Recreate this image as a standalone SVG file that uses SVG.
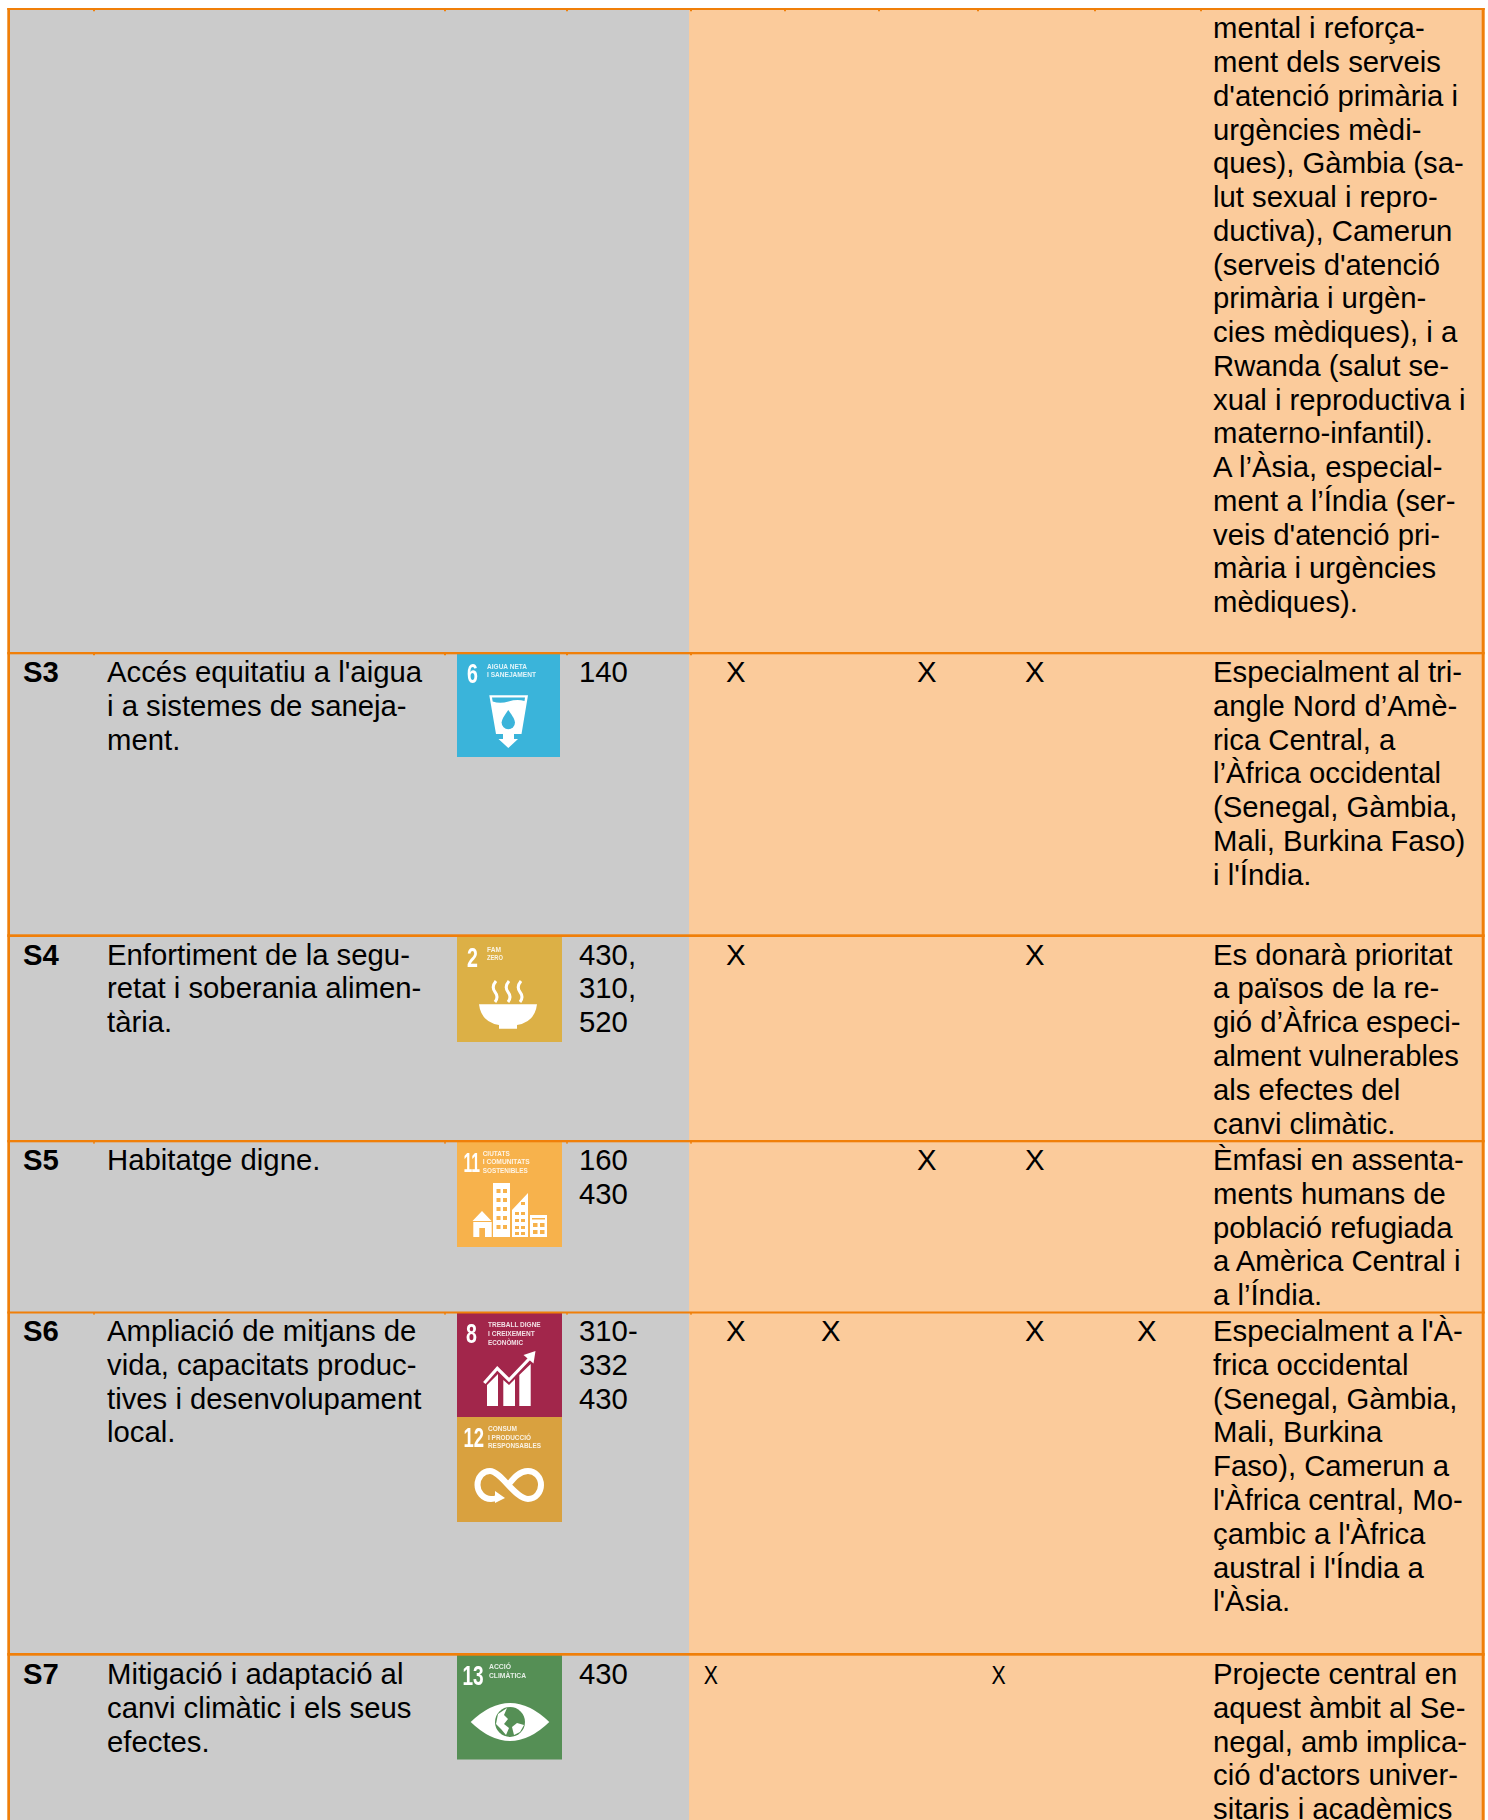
<svg xmlns="http://www.w3.org/2000/svg" width="1488" height="1820" viewBox="0 0 1488 1820">
<style>
text{font-family:"Liberation Sans",Arial,sans-serif;font-size:29.3px;fill:#000}
.b{font-weight:700}
.ln{fill:#F07F09;stroke:none}
.w{fill:#fff}
text.num{font-family:"Liberation Sans",Arial,sans-serif;font-weight:700;font-size:28px;fill:#fff}
text.t{font-family:"Liberation Sans",Arial,sans-serif;font-weight:700;font-size:7.5px;fill:#fff;fill-opacity:.85}
text.sx{font-size:25px}
.ic{filter:url(#soft)}
</style>
<defs><filter id="soft" x="-5%" y="-5%" width="110%" height="110%"><feGaussianBlur stdDeviation="0.5"/></filter></defs>
<rect width="1488" height="1820" fill="#fff"/>
<rect x="10" y="10" width="679" height="1810" fill="#CBCBCB"/>
<rect x="689" y="10" width="793" height="1810" fill="#FBCB9B"/>

<g id="row-s2">
<text x="1213" y="38.3">mental i reforça-<tspan x="1213" dy="33.75">ment dels serveis</tspan><tspan x="1213" dy="33.75">d'atenció primària i</tspan><tspan x="1213" dy="33.75">urgències mèdi-</tspan><tspan x="1213" dy="33.75">ques), Gàmbia (sa-</tspan><tspan x="1213" dy="33.75">lut sexual i repro-</tspan><tspan x="1213" dy="33.75">ductiva), Camerun</tspan><tspan x="1213" dy="33.75">(serveis d'atenció</tspan><tspan x="1213" dy="33.75">primària i urgèn-</tspan><tspan x="1213" dy="33.75">cies mèdiques), i a</tspan><tspan x="1213" dy="33.75">Rwanda (salut se-</tspan><tspan x="1213" dy="33.75">xual i reproductiva i</tspan><tspan x="1213" dy="33.75">materno-infantil).</tspan><tspan x="1213" dy="33.75">A l’Àsia, especial-</tspan><tspan x="1213" dy="33.75">ment a l’Índia (ser-</tspan><tspan x="1213" dy="33.75">veis d'atenció pri-</tspan><tspan x="1213" dy="33.75">mària i urgències</tspan><tspan x="1213" dy="33.75">mèdiques).</tspan></text>
</g>

<g id="row-s3">
<text class="b" x="23" y="682">S3</text>
<text x="107" y="682">Accés equitatiu a l'aigua<tspan x="107" dy="33.8">i a sistemes de saneja-</tspan><tspan x="107" dy="33.8">ment.</tspan></text>
<g transform="translate(457 653)">
<rect width="103" height="104" fill="#3AB4DA"/>
<g class="ic">
<text class="num" transform="translate(10 30) scale(.7 1)">6</text>
<text class="t" x="30" y="16" textLength="40" lengthAdjust="spacingAndGlyphs">AIGUA NETA</text>
<text class="t" x="30" y="24" textLength="49" lengthAdjust="spacingAndGlyphs">I SANEJAMENT</text>
<path class="w" d="M32.3 42.3H71L64.5 81H57V86H61L51.3 95L41.5 86H46V81H39Z"/>
<path fill="#3AB4DA" d="M35 44.5H68L67.5 48Q60 46 51.5 48.5T35.7 48.5Z"/>
<path fill="#3AB4DA" d="M51.3 57Q58 66 58 69.5A6.7 6.7 0 0 1 44.6 69.5Q44.6 66 51.3 57Z"/>
</g>
</g>
<text x="579" y="682">140</text>
<text x="726" y="682">X</text>
<text x="917" y="682">X</text>
<text x="1025" y="682">X</text>
<text x="1213" y="682">Especialment al tri-<tspan x="1213" dy="33.8">angle Nord d’Amè-</tspan><tspan x="1213" dy="33.8">rica Central, a</tspan><tspan x="1213" dy="33.8">l’Àfrica occidental</tspan><tspan x="1213" dy="33.8">(Senegal, Gàmbia,</tspan><tspan x="1213" dy="33.8">Mali, Burkina Faso)</tspan><tspan x="1213" dy="33.8">i l'Índia.</tspan></text>
</g>

<g id="row-s4">
<text class="b" x="23" y="964.6">S4</text>
<text x="107" y="964.6">Enfortiment de la segu-<tspan x="107" dy="33.8">retat i soberania alimen-</tspan><tspan x="107" dy="33.8">tària.</tspan></text>
<g transform="translate(457 937)">
<rect width="105" height="105" fill="#DCB046"/>
<g class="ic">
<text class="num" transform="translate(10 30) scale(.7 1)">2</text>
<text class="t" x="30" y="14.7" textLength="14" lengthAdjust="spacingAndGlyphs">FAM</text>
<text class="t" x="30" y="23" textLength="16" lengthAdjust="spacingAndGlyphs">ZERO</text>
<path class="w" d="M22 67.3H80Q78 85 60 88V91.7H42V88Q24 85 22 67.3Z"/>
<path fill="none" stroke="#fff" stroke-width="3" d="M39 44Q34 50 38 55T38 65M52 44Q47 50 51 55T51 65M64 44Q59 50 63 55T63 65"/>
</g>
</g>
<text x="579" y="964.6">430,<tspan x="579" dy="33.8">310,</tspan><tspan x="579" dy="33.8">520</tspan></text>
<text x="726" y="964.6">X</text>
<text x="1025" y="964.6">X</text>
<text x="1213" y="964.6">Es donarà prioritat<tspan x="1213" dy="33.8">a països de la re-</tspan><tspan x="1213" dy="33.8">gió d’Àfrica especi-</tspan><tspan x="1213" dy="33.8">alment vulnerables</tspan><tspan x="1213" dy="33.8">als efectes del</tspan><tspan x="1213" dy="33.8">canvi climàtic.</tspan></text>
</g>

<g id="row-s5">
<text class="b" x="23" y="1170">S5</text>
<text x="107" y="1170">Habitatge digne.</text>
<g transform="translate(457 1142)">
<rect width="105" height="105" fill="#F7B24C"/>
<g class="ic">
<text class="num" transform="translate(6.5 30) scale(.56 1)">11</text>
<text class="t" x="25.7" y="14" textLength="27" lengthAdjust="spacingAndGlyphs">CIUTATS</text>
<text class="t" x="25.7" y="22.3" textLength="47" lengthAdjust="spacingAndGlyphs">I COMUNITATS</text>
<text class="t" x="25.7" y="31.3" textLength="45" lengthAdjust="spacingAndGlyphs">SOSTENIBLES</text>
<path class="w" d="M25 69L34.5 79H15.5ZM16.3 80H34.7V95H28V86H22.3V95H16.3ZM36 41H53V95H36ZM55 68L71 51V95H55ZM73 73H90V95H73Z"/>
<path fill="#F7B24C" d="M39.5 47h4v4h-4zM46 47h4v4h-4zM39.5 56h4v4h-4zM46 56h4v4h-4zM39.5 65h4v4h-4zM46 65h4v4h-4zM39.5 74h4v4h-4zM46 74h4v4h-4zM39.5 83h4v4h-4zM46 83h4v4h-4zM64 60h4v3h-4zM58 70h4v3h-4zM64 70h4v3h-4zM58 77h4v3h-4zM64 77h4v3h-4zM58 84h4v3h-4zM64 84h4v3h-4zM58 90h4v3h-4zM64 90h4v3h-4zM75 76h13v1.5h-13zM76 81h4.5v4h-4.5zM83 81h4.5v4h-4.5zM76 88h4.5v4h-4.5zM83 88h4.5v4h-4.5z"/>
</g>
</g>
<text x="579" y="1170">160<tspan x="579" dy="33.8">430</tspan></text>
<text x="917" y="1170">X</text>
<text x="1025" y="1170">X</text>
<text x="1213" y="1170">Èmfasi en assenta-<tspan x="1213" dy="33.8">ments humans de</tspan><tspan x="1213" dy="33.8">població refugiada</tspan><tspan x="1213" dy="33.8">a Amèrica Central i</tspan><tspan x="1213" dy="33.8">a l’Índia.</tspan></text>
</g>

<g id="row-s6">
<text class="b" x="23" y="1341">S6</text>
<text x="107" y="1341">Ampliació de mitjans de<tspan x="107" dy="33.8">vida, capacitats produc-</tspan><tspan x="107" dy="33.8">tives i desenvolupament</tspan><tspan x="107" dy="33.8">local.</tspan></text>
<g transform="translate(457 1313)">
<rect width="105" height="104" fill="#A2264B"/>
<g class="ic">
<text class="num" transform="translate(9 30) scale(.7 1)">8</text>
<text class="t" x="31" y="14.3" textLength="52.7" lengthAdjust="spacingAndGlyphs">TREBALL DIGNE</text>
<text class="t" x="31" y="23" textLength="46.7" lengthAdjust="spacingAndGlyphs">I CREIXEMENT</text>
<text class="t" x="31" y="32" textLength="35" lengthAdjust="spacingAndGlyphs">ECONÒMIC</text>
<path class="w" d="M30 72L41 61V93H30ZM46.3 67L52 72L58 66V93H46.3ZM62.3 62L73.7 51V93H62.3Z"/>
<path fill="none" stroke="#fff" stroke-width="3.2" d="M27.3 70L40.3 55.3L52 67L73 45"/>
<path class="w" d="M78.5 38L76.5 50.5L66.5 42Z"/>
</g>
</g>
<g transform="translate(457 1417)">
<rect width="105" height="105" fill="#D9A13F"/>
<g class="ic">
<text class="num" transform="translate(6.5 30) scale(.66 1)">12</text>
<text class="t" x="31" y="14" textLength="29" lengthAdjust="spacingAndGlyphs">CONSUM</text>
<text class="t" x="31" y="22.7" textLength="43" lengthAdjust="spacingAndGlyphs">I PRODUCCIÓ</text>
<text class="t" x="31" y="31" textLength="53" lengthAdjust="spacingAndGlyphs">RESPONSABLES</text>
<path fill="none" stroke="#fff" stroke-width="6" d="M40 81C37 82 36 82 34 82C26 82 20.5 75 20.5 68C20.5 60 26 54 33 54C44 54 58 82 71 82C79 82 84 75 84 68C84 60 78 54 71 54C62 54 56 62 52 67"/>
<path class="w" d="M38 74L48 81L38 86Z"/>
</g>
</g>
<text x="579" y="1341">310-<tspan x="579" dy="33.8">332</tspan><tspan x="579" dy="33.8">430</tspan></text>
<text x="726" y="1341">X</text>
<text x="821" y="1341">X</text>
<text x="1025" y="1341">X</text>
<text x="1137" y="1341">X</text>
<text x="1213" y="1341">Especialment a l'À-<tspan x="1213" dy="33.8">frica occidental</tspan><tspan x="1213" dy="33.8">(Senegal, Gàmbia,</tspan><tspan x="1213" dy="33.8">Mali, Burkina</tspan><tspan x="1213" dy="33.8">Faso), Camerun a</tspan><tspan x="1213" dy="33.8">l'Àfrica central, Mo-</tspan><tspan x="1213" dy="33.8">çambic a l'Àfrica</tspan><tspan x="1213" dy="33.8">austral i l'Índia a</tspan><tspan x="1213" dy="33.8">l'Àsia.</tspan></text>
</g>

<g id="row-s7">
<text class="b" x="23" y="1684">S7</text>
<text x="107" y="1684">Mitigació i adaptació al<tspan x="107" dy="33.8">canvi climàtic i els seus</tspan><tspan x="107" dy="33.8">efectes.</tspan></text>
<g transform="translate(457 1655)">
<rect width="105" height="104.5" fill="#558F55"/>
<g class="ic">
<text class="num" transform="translate(5.5 30) scale(.68 1)">13</text>
<text class="t" x="32" y="14.3" textLength="22" lengthAdjust="spacingAndGlyphs">ACCIÓ</text>
<text class="t" x="32" y="22.7" textLength="37" lengthAdjust="spacingAndGlyphs">CLIMÀTICA</text>
<path class="w" d="M13.7 67Q53 29 92.3 67Q53 105 13.7 67Z"/>
<circle cx="53" cy="67" r="15" fill="#558F55"/>
<path class="w" d="M41 59L50 53L47 60L51 64L47 69L52 73L49 80L44 74L39 69ZM55 72L60 68L67 70L63 77L57 80Z"/>
</g>
</g>
<text x="579" y="1684">430</text>
<text class="sx" transform="translate(703.7 1684) scale(.85 1)">X</text>
<text class="sx" transform="translate(991.5 1684) scale(.85 1)">X</text>
<text x="1213" y="1684">Projecte central en<tspan x="1213" dy="33.8">aquest àmbit al Se-</tspan><tspan x="1213" dy="33.8">negal, amb implica-</tspan><tspan x="1213" dy="33.8">ció d'actors univer-</tspan><tspan x="1213" dy="33.8">sitaris i acadèmics</tspan></text>
</g>

<g id="connectors">
<rect class="ln" x="7.3" y="8" width="2.7" height="1812"/>
<rect class="ln" x="1481.7" y="8" width="3" height="1812"/>
<rect class="ln" x="7.3" y="8" width="1477.4" height="2"/>
<rect class="ln" x="7.3" y="652" width="1477.4" height="2.3"/>
<rect class="ln" x="7.3" y="934.3" width="1477.4" height="2.7"/>
<rect class="ln" x="7.3" y="1140" width="1477.4" height="2.3"/>
<rect class="ln" x="7.3" y="1311.5" width="1477.4" height="2"/>
<rect class="ln" x="7.3" y="1653" width="1477.4" height="2.7"/>
<path class="ln" d="M93 10h2v1.3h-2zM444 10h2v1.3h-2zM566 10h2v1.3h-2zM690 10h2v1.3h-2zM784 10h2v1.3h-2zM878 10h2v1.3h-2zM977 10h2v1.3h-2zM1094 10h2v1.3h-2zM1200 10h2v1.3h-2zM93 654h2v1.3h-2zM444 654h2v1.3h-2zM566 654h2v1.3h-2zM690 654h2v1.3h-2zM93 1142.3h2v1.3h-2zM444 1142.3h2v1.3h-2zM566 1142.3h2v1.3h-2zM690 1142.3h2v1.3h-2zM93 1313.3h2v1.3h-2zM444 1313.3h2v1.3h-2zM566 1313.3h2v1.3h-2zM690 1313.3h2v1.3h-2z"/>
</g>
</svg>
